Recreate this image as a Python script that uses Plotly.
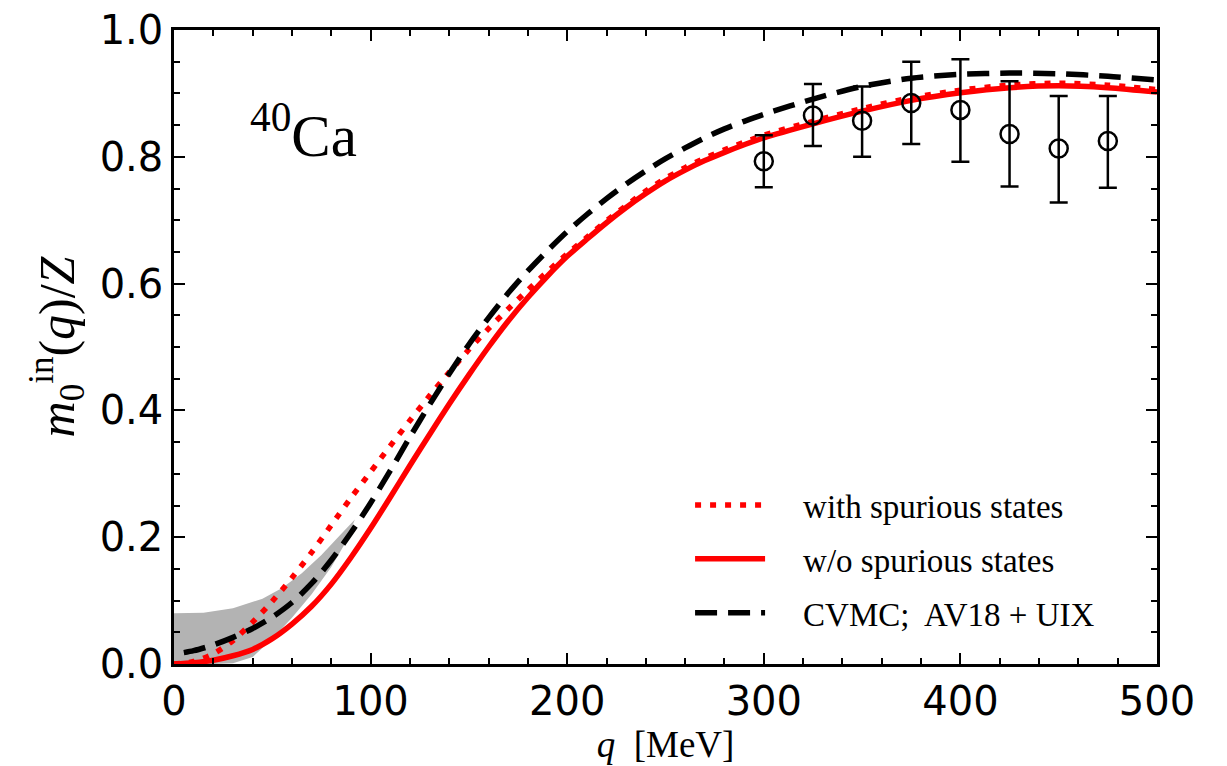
import plotly.graph_objects as go

# ---------------- data ----------------
q_fine = [0, 10, 20, 30, 40, 50, 60, 70, 80, 90, 100, 110, 120, 130, 140, 150, 160, 170, 180,
          190, 200, 210, 220, 230, 240, 250, 260, 270, 280, 290, 300, 325, 350, 375, 400,
          425, 450, 475, 500]

# CVMC; AV18+UIX (black dashed) -- starts at q = 5
cvmc_q = [5] + q_fine[1:]
cvmc_m = [0.018, 0.021, 0.030, 0.042, 0.056, 0.074, 0.097, 0.127, 0.164, 0.207, 0.254, 0.305,
          0.358, 0.409, 0.458, 0.504, 0.546, 0.585, 0.620, 0.652, 0.682, 0.709, 0.734, 0.757,
          0.778, 0.797, 0.814, 0.830, 0.844, 0.856, 0.867, 0.891, 0.911, 0.924, 0.930, 0.932,
          0.931, 0.927, 0.921]

# w/o spurious states (red solid)
wo_q = q_fine
wo_m = [0.000, 0.002, 0.006, 0.013, 0.023, 0.040, 0.063, 0.091, 0.126, 0.168, 0.214, 0.263,
        0.313, 0.362, 0.410, 0.456, 0.500, 0.541, 0.578, 0.612, 0.643, 0.670, 0.696, 0.720,
        0.742, 0.762, 0.779, 0.794, 0.807, 0.819, 0.830, 0.852, 0.872, 0.889, 0.901, 0.909,
        0.912, 0.909, 0.902]

# with spurious states (red dotted)
with_q = q_fine
with_m = [0.000, 0.004, 0.016, 0.037, 0.066, 0.099, 0.136, 0.176, 0.219, 0.262, 0.303, 0.344,
          0.384, 0.423, 0.460, 0.496, 0.529, 0.560, 0.590, 0.619, 0.647, 0.673, 0.699, 0.723,
          0.746, 0.766, 0.783, 0.798, 0.811, 0.823, 0.834, 0.856, 0.876, 0.893, 0.905, 0.913,
          0.916, 0.913, 0.906]

# grey uncertainty band
band_q_upper = [0, 15, 30, 45, 55, 65, 75, 85, 92]
band_upper = [0.080, 0.081, 0.088, 0.103, 0.120, 0.143, 0.172, 0.205, 0.228]
band_q_lower = [87, 80, 70, 60, 50, 40, 30, 20, 0]
band_lower = [0.190, 0.153, 0.110, 0.073, 0.040, 0.011, 0.001, 0.0, 0.0]

# experimental points
exp_q = [300, 325, 350, 375, 400, 425, 450, 475]
exp_m = [0.793, 0.865, 0.857, 0.885, 0.874, 0.836, 0.813, 0.825]
exp_err_plus = [0.041, 0.050, 0.054, 0.065, 0.080, 0.083, 0.083, 0.071]
exp_err_minus = [0.041, 0.048, 0.057, 0.065, 0.082, 0.083, 0.085, 0.074]

x_ticks = [0, 100, 200, 300, 400, 500]
y_ticks = [0.0, 0.2, 0.4, 0.6, 0.8, 1.0]

# ---------------- figure ----------------
fig = go.Figure()

fig.add_trace(go.Scatter(
    x=band_q_upper + band_q_lower, y=band_upper + band_lower,
    fill="toself", fillcolor="#b3b3b3", mode="none", showlegend=False, hoverinfo="skip"))

fig.add_trace(go.Scatter(
    x=with_q, y=with_m, mode="lines", name="&nbsp;&nbsp;&nbsp;&nbsp;with spurious states",
    legendgroup="a",
    line=dict(color="#ff0000", width=5.5, dash="6px,9px", shape="spline", smoothing=0.8)))

fig.add_trace(go.Scatter(
    x=wo_q, y=wo_m, mode="lines", name="&nbsp;&nbsp;&nbsp;&nbsp;w/o spurious states",
    legendgroup="b",
    line=dict(color="#ff0000", width=5.5, shape="spline", smoothing=0.8)))

fig.add_trace(go.Scatter(
    x=cvmc_q, y=cvmc_m, mode="lines", name="&nbsp;&nbsp;&nbsp;&nbsp;CVMC;&nbsp; AV18 + UIX",
    legendgroup="c",
    line=dict(color="#000000", width=5.5, dash="22px,11px", shape="spline", smoothing=0.8)))

fig.add_trace(go.Scatter(
    x=exp_q, y=exp_m, mode="markers", showlegend=False,
    marker=dict(symbol="circle-open", size=18, color="black", line=dict(width=2.5, color="black")),
    error_y=dict(type="data", symmetric=False, array=exp_err_plus, arrayminus=exp_err_minus,
                 color="black", thickness=2.5, width=9)))

axis_common = dict(
    showline=True, linecolor="black", linewidth=2.5, mirror="ticks",
    ticks="inside", ticklen=11, tickwidth=2, tickcolor="black",
    showgrid=False, zeroline=False, automargin=False, ticklabeloverflow="allow",
    tickfont=dict(family="DejaVu Sans", size=40, color="black"),
)

fig.update_xaxes(
    range=[0, 500], tickvals=x_ticks, ticktext=[str(v) for v in x_ticks],
    minor=dict(dtick=20, ticks="inside", ticklen=6, tickwidth=1.5, tickcolor="black"),
    title=dict(text="<i>q</i>  [MeV]", font=dict(family="Liberation Serif", size=37, color="black"),
               standoff=4),
    **axis_common)

fig.update_yaxes(
    range=[0, 1], tickvals=y_ticks, ticktext=[f"{v:.1f}" for v in y_ticks],
    minor=dict(dtick=0.05, ticks="inside", ticklen=6, tickwidth=1.5, tickcolor="black"),
    title=dict(text="<i>m</i><sub>0</sub><sup>in</sup>(<i>q</i>)/<i>Z</i>",
               font=dict(family="Liberation Serif", size=50, color="black"), standoff=10),
    **axis_common)

fig.add_annotation(
    x=0.075, y=0.84, xref="paper", yref="paper", xanchor="left", yanchor="middle",
    text="<sup>40</sup>Ca", showarrow=False,
    font=dict(family="Liberation Serif", size=59, color="black"))

fig.update_layout(
    width=1227, height=766,
    margin=dict(l=166, r=78, t=22, b=110),
    paper_bgcolor="white", plot_bgcolor="white",
    legend=dict(x=0.525, y=0.295, xanchor="left", yanchor="top",
                bgcolor="rgba(0,0,0,0)", borderwidth=0, itemwidth=70,
                font=dict(family="Liberation Serif", size=33, color="black"),
                tracegroupgap=8),
    showlegend=True,
)

fig.write_html("out.html")
